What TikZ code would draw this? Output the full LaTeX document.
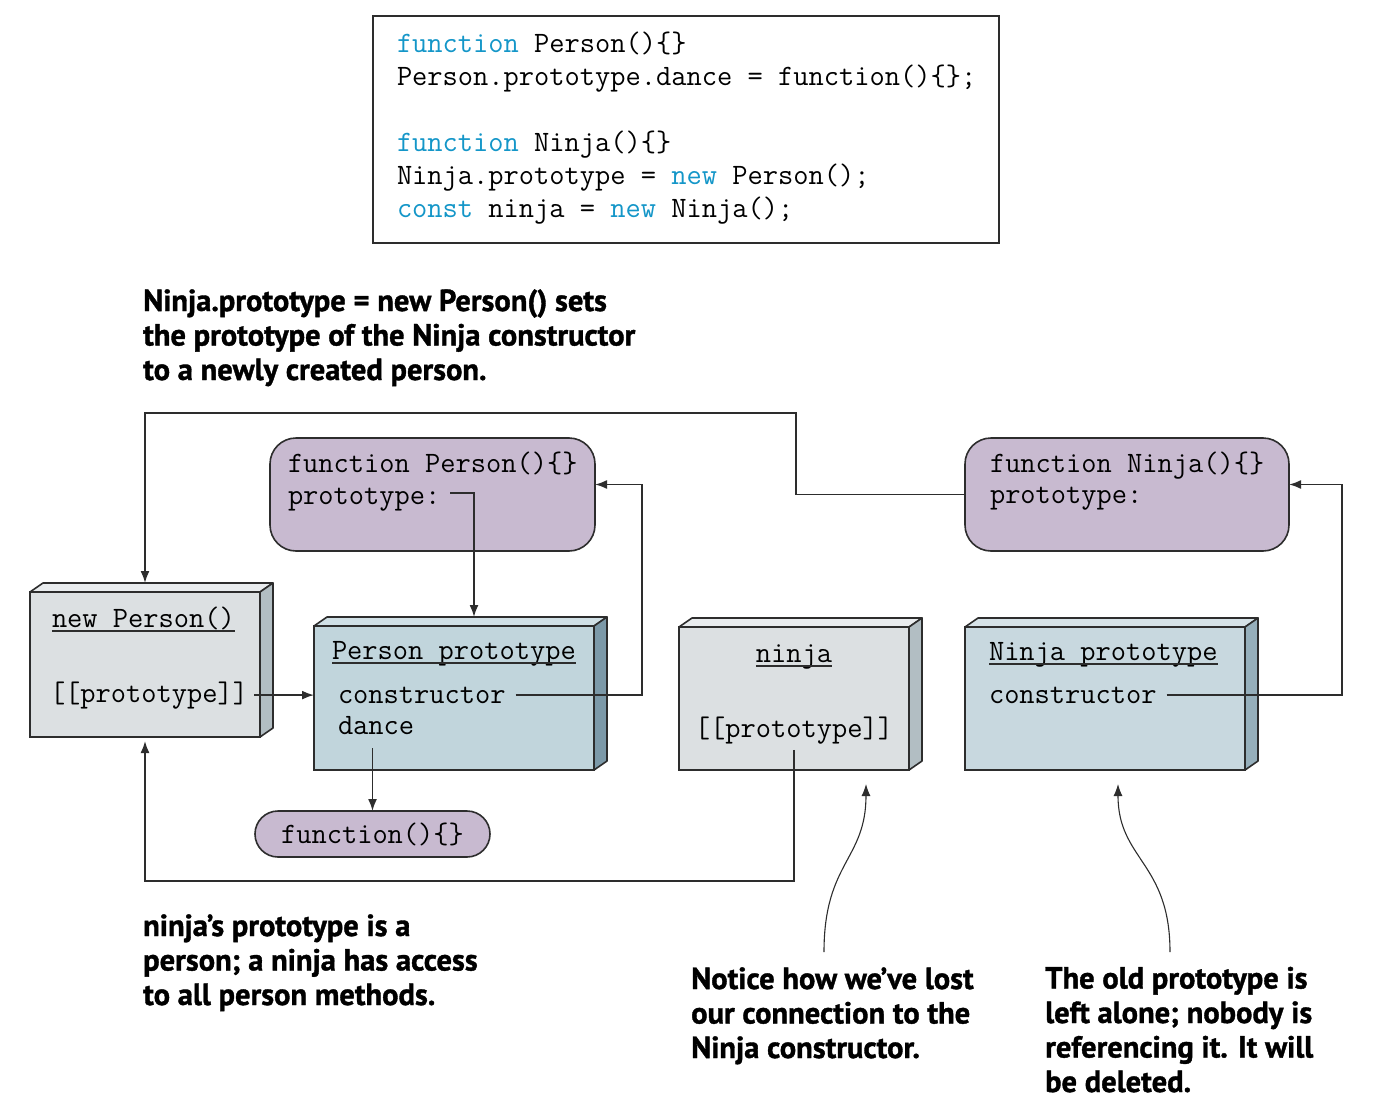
\documentclass[tikz,border=0pt]{standalone}
\usepackage{fontspec}
\usepackage{tikz}
\usetikzlibrary{arrows.meta}
\newfontfamily\gillfont{PT Sans}[BoldFeatures={FakeBold=1.2}]
\newcommand\codefont{\ttfamily\fontsize{29.6}{33}\selectfont}
\newcommand\notefont{\gillfont\bfseries\fontsize{30.5}{34.5}\selectfont}
\definecolor{linec}{RGB}{45,45,45}
\definecolor{jsblue}{RGB}{20,150,200}
\definecolor{fnpurple}{RGB}{200,186,208}
\definecolor{greyfront}{RGB}{220,224,226}
\definecolor{greytop}{RGB}{233,236,238}
\definecolor{greyside}{RGB}{178,190,195}
\definecolor{bluefront}{RGB}{193,213,220}
\definecolor{bluetop}{RGB}{208,224,230}
\definecolor{blueside}{RGB}{124,153,168}
\definecolor{ninjafront}{RGB}{200,216,223}
\definecolor{ninjatop}{RGB}{214,226,231}
\definecolor{ninjaside}{RGB}{150,175,187}
\tikzset{
  slab/.style= {draw=linec, line width=1.6pt, inner sep=0, outer sep=0},
  fnbox/.style= {draw=linec, line width=1.6pt, fill=fnpurple, rounded corners=26pt, inner sep=0, outer sep=0},
  code/.style= {font=\codefont, inner sep=0, outer sep=0, anchor=base west},
  note/.style= {font=\notefont, align=left, inner sep=0, anchor=base west},
  arr/.style= {draw=linec, line width=1.7pt, -{Latex[length=12pt,width=9pt]}},
  callout/.style= {draw=linec, line width=1.1pt, -{Latex[length=12pt,width=9pt]}},
}
\newcommand\kw[1]{{\color{jsblue}#1}}

\begin{document}
\begin{tikzpicture}[x=1pt, y=-1pt]
  \useasboundingbox (0,0) rectangle (1382,1108) ;

  % the listing (base = last line)
  \node [draw=linec, line width=1.6pt, inner sep=0, minimum width=626pt, minimum height=227pt] (listing) at (686,129.5) {} ;
  \node [code, align=left] (listingtext) at (397,217) {\kw{function} Person()\{\}\\
    Person.prototype.dance = function()\{\};\\[33pt]
    \kw{function} Ninja()\{\}\\
    Ninja.prototype = \kw{new} Person();\\
    \kw{const} ninja = \kw{new} Ninja();} ;

  % notes (base = last line)
  \node [note] (setnote) at (143,380) {Ninja.prototype = new Person() sets\\the prototype of the Ninja constructor\\to a newly created person.} ;
  \node [note] (accessnote) at (143,1005) {ninja’s prototype is a\\person; a ninja has access\\to all person methods.} ;
  \node [note] (lostnote) at (691,1058) {Notice how we’ve lost\\our connection to the\\Ninja constructor.} ;
  \node [note] (oldnote) at (1045,1092) {The old prototype is\\left alone; nobody is\\referencing it. It will\\be deleted.} ;

  % functions
  \node [fnbox, minimum width=325pt, minimum height=113pt] (fper) at (432.5,494.5) {} ;
  \node [code] (fpername) at (288,472) {function Person()\{\}} ;
  \node [code] (fperproto) at (288,504) {prototype:} ;
  \node [fnbox, minimum width=324pt, minimum height=113pt] (fnin) at (1127,494.5) {} ;
  \node [code] (fninname) at (990,472) {function Ninja()\{\}} ;
  \node [code] (fninproto) at (990,503) {prototype:} ;
  \node [fnbox, rounded corners=23pt, minimum width=235pt, minimum height=46pt] (fanon) at (372.5,834) {} ;
  \node [code, anchor=center] (fanonname) at (fanon) {function()\{\}} ;

  % objects
  \node [slab, fill=greyfront, minimum width=230pt, minimum height=145pt] (newp) at (145,664.5) {} ;
  \node [slab, fill=bluefront, minimum width=280pt, minimum height=144pt] (pp) at (454,698) {} ;
  \node [slab, fill=greyfront, minimum width=230pt, minimum height=143pt] (nj) at (794,698.5) {} ;
  \node [slab, fill=ninjafront, minimum width=280pt, minimum height=143pt] (np) at (1105,698.5) {} ;
  \foreach \b/\tc/\sc in {newp/greytop/greyside, pp/bluetop/blueside, nj/greytop/greyside, np/ninjatop/ninjaside} {
    \filldraw [draw=linec, line width=1.6pt, line join=round, fill=\tc] (\b.north west) -- ++(13,-9) -- ([shift={(13,-9)}]\b.north east) -- (\b.north east) -- cycle ;
    \filldraw [draw=linec, line width=1.6pt, line join=round, fill=\sc] (\b.north east) -- ++(13,-9) -- ([shift={(13,-9)}]\b.south east) -- (\b.south east) -- cycle ;
  }
  \node [code] (newpname) at (52,627) {new Person()} ;
  \node [code] (newpproto) at (50,702) {[[prototype]]} ;
  \node [code] (ppname) at (332,659) {Person prototype} ;
  \node [code] (ppcons) at (338,703) {constructor} ;
  \node [code] (ppdance) at (338,734) {dance} ;
  \node [code, anchor=base] (njname) at (794,662) {ninja} ;
  \node [code, anchor=base] (njproto) at (794,737) {[[prototype]]} ;
  \node [code] (npname) at (989,660) {Ninja prototype} ;
  \node [code] (npcons) at (989,703) {constructor} ;
  \foreach \t in {newpname, ppname, njname, npname}
    \draw [linec, line width=1.6pt] ([yshift=-4pt]\t.base west) -- ([yshift=-4pt]\t.base east) ;

  % links
  \coordinate (topturn) at (796,413) ;
  \draw [arr] (fnin.west) -| (topturn) -| ([yshift=9pt]newp.north) ;
  \draw [arr] ([xshift=6pt]newpproto.east) -- (newpproto.east -| pp.west) ;
  \draw [arr] ([xshift=10pt,yshift=6pt]fperproto.east) -| ([xshift=20pt,yshift=9pt]pp.north) ;
  \draw [arr] ([xshift=10pt]ppcons.east) -- ++(126,0) |- ([yshift=10pt]fper.east) ;
  \draw [arr] ([yshift=63pt]fanon.north) -- (fanon.north) ;
  \draw [arr] ([yshift=-6pt]njproto.south) -- ++(0,131) -| ([yshift=-4pt]newp.south) ;
  \draw [arr] ([xshift=10pt]npcons.east) -- ++(175,0) |- ([yshift=10pt]fnin.east) ;

  % callouts
  \coordinate (loststart) at (824,952) ;
  \coordinate (lostend) at (866,784) ;
  \coordinate (oldstart) at (1170,952) ;
  \coordinate (oldend) at (1118,784) ;
  \draw [callout] (loststart) .. controls +(0,-90) and +(0,76) .. (lostend) ;
  \draw [callout] (oldstart) .. controls +(0,-90) and +(0,76) .. (oldend) ;
\end{tikzpicture}
\end{document}
